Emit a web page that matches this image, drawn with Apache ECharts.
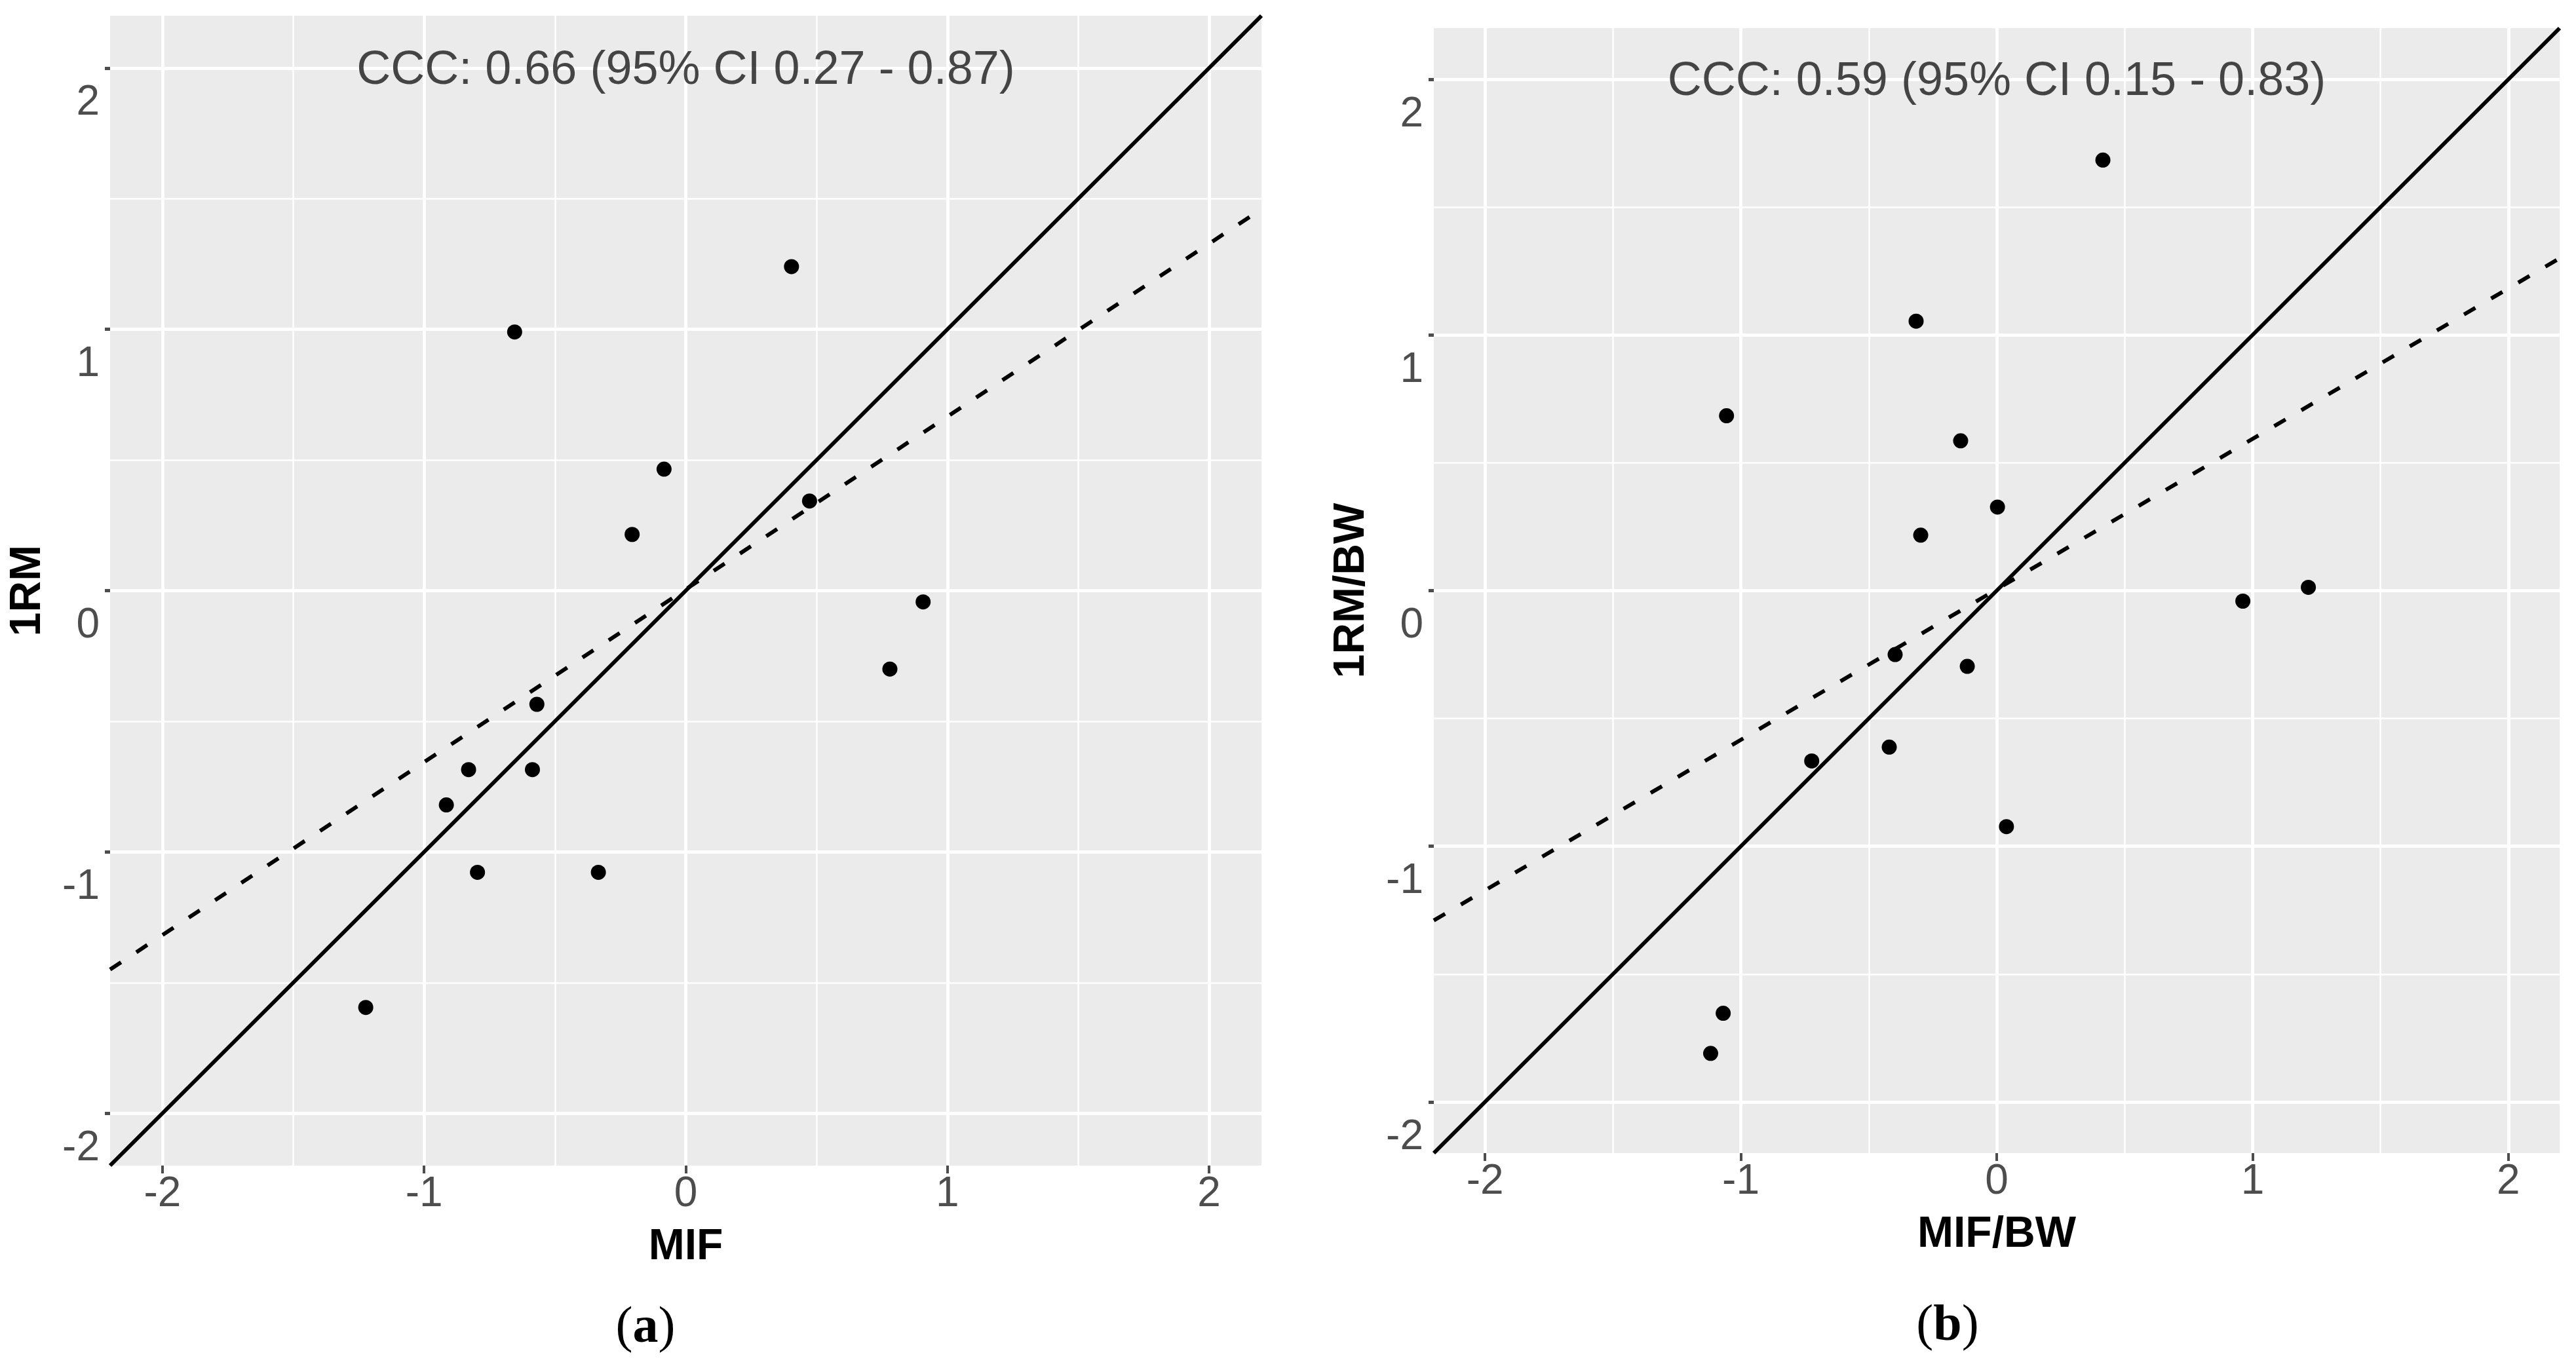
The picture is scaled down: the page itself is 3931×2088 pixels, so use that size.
<!DOCTYPE html>
<html>
<head>
<meta charset="utf-8">
<script src="https://cdn.jsdelivr.net/npm/echarts@6/dist/echarts.min.js"></script>
<style>
  html, body { margin: 0; padding: 0; background: #fff; }
  #chart-container { width: 3931px; height: 2088px; }
</style>
</head>
<body>
<div id="chart-container"></div>
<script>
// panel (a): MIF vs 1RM (z-scores)
const mifA = [-0.654, 0.404, -0.083, 0.473, -0.205, 0.907, 0.78, -0.569, -0.83, -0.586, -0.915, -0.796, -0.334, -1.223];
const rmA = [0.99, 1.24, 0.465, 0.343, 0.215, -0.043, -0.30, -0.435, -0.685, -0.685, -0.82, -1.078, -1.078, -1.595];

// panel (b): MIF/BW vs 1RM/BW
const mifB = [0.415, -0.315, -1.056, -0.141, 0.003, -0.297, 0.962, 1.218, -0.397, -0.115, -0.723, -0.42, 0.038, -1.069, -1.118];
const rmB = [1.684, 1.054, 0.684, 0.586, 0.327, 0.217, -0.041, 0.013, -0.25, -0.296, -0.666, -0.612, -0.923, -1.653, -1.81];

// line of identity and fitted (dashed) line, end points
const identityLine = [[-2.2, -2.2], [2.2, 2.2]];
const fitA = [[-2.2, -1.45], [2.2, 1.46]];
const fitB = [[-2.2, -1.29], [2.2, 1.30]];

const majorTicks = [-2, -1, 0, 1, 2];
const minorTicks = [-1.5, -0.5, 0.5, 1.5];
const cccTexts = ["CCC: 0.66 (95% CI 0.27 - 0.87)", "CCC: 0.59 (95% CI 0.15 - 0.83)"];
const xNames = ["MIF", "MIF/BW"];
const yNames = ["1RM", "1RM/BW"];
const panelTags = ["a", "b"];

const SANS = "'Liberation Sans', Arial, sans-serif";
const SERIF = "'Liberation Serif', 'Times New Roman', serif";

function zip(xs, ys) {
  return xs.map((x, i) => [x, ys[i]]);
}

function mainAxis(dim, gridIndex, name) {
  const isY = dim === "y";
  return {
    type: "value",
    gridIndex: gridIndex,
    min: -2.2,
    max: 2.2,
    name: name,
    nameLocation: "middle",
    nameGap: 92,
    nameTextStyle: {
      fontFamily: SANS,
      fontWeight: "bold",
      fontSize: 66,
      color: "#000",
    },
    axisLine: { show: false, onZero: false },
    axisTick: {
      show: true,
      customValues: majorTicks,
      length: isY ? 8 : 12,
      lineStyle: { color: "#4d4d4d", width: isY ? 5 : 4 },
    },
    axisLabel: {
      customValues: majorTicks,
      fontFamily: SANS,
      fontSize: 64,
      color: "#4d4d4d",
      margin: isY ? 16 : 12,
      // the y labels in the source sit a bit below their ticks
      verticalAlign: "top",
      lineHeight: isY ? 108 : 64,
    },
    splitLine: { show: true, lineStyle: { color: "#ffffff", width: 5 } },
  };
}

function minorAxis(gridIndex) {
  return {
    type: "value",
    gridIndex: gridIndex,
    min: -2.2,
    max: 2.2,
    axisLine: { show: false, onZero: false },
    axisTick: { show: false, customValues: minorTicks },
    axisLabel: { show: false },
    splitLine: { show: true, lineStyle: { color: "#ffffff", width: 2.5 } },
  };
}

function panelSeries(axisIndex, pts, fit, text) {
  return [
    {
      type: "line",
      xAxisIndex: axisIndex,
      yAxisIndex: axisIndex,
      data: identityLine,
      symbol: "none",
      lineStyle: { color: "#000", width: 6 },
      silent: true,
      z: 3,
    },
    {
      type: "line",
      xAxisIndex: axisIndex,
      yAxisIndex: axisIndex,
      data: fit,
      symbol: "none",
      lineStyle: { color: "#000", width: 6, type: [20, 28] },
      silent: true,
      z: 3,
    },
    {
      type: "scatter",
      xAxisIndex: axisIndex,
      yAxisIndex: axisIndex,
      data: pts,
      symbol: "circle",
      symbolSize: 23,
      itemStyle: { color: "#000", opacity: 1 },
      z: 4,
    },
    {
      type: "scatter",
      xAxisIndex: axisIndex,
      yAxisIndex: axisIndex,
      data: [[0, 1.99]],
      symbolSize: 0,
      silent: true,
      label: {
        show: true,
        position: "inside",
        formatter: text,
        fontFamily: SANS,
        fontSize: 72,
        color: "#1a1a1a",
      },
      z: 5,
    },
  ];
}

const chart = echarts.init(document.getElementById("chart-container"), null, { renderer: "canvas" });

const option = {
  backgroundColor: "#ffffff",
  animation: false,
  title: panelTags.map((t, i) => ({
    text: "(" + "{b|" + t + "})",
    left: i === 0 ? 980 : 2967,
    top: i === 0 ? 1984 : 1981,
    textAlign: "center",
    textStyle: {
      fontFamily: SERIF,
      fontSize: 78,
      fontWeight: "normal",
      color: "#000",
      rich: {
        b: { fontFamily: SERIF, fontSize: 78, fontWeight: "bold", color: "#000" },
      },
    },
  })),
  grid: [
    { left: 168, top: 24, width: 1757, height: 1755, show: true, backgroundColor: "#ebebeb", borderWidth: 0 },
    { left: 2188, top: 43, width: 1718, height: 1717, show: true, backgroundColor: "#ebebeb", borderWidth: 0 },
  ],
  xAxis: [
    mainAxis("x", 0, xNames[0]),
    minorAxis(0),
    mainAxis("x", 1, xNames[1]),
    minorAxis(1),
  ],
  yAxis: [
    mainAxis("y", 0, yNames[0]),
    minorAxis(0),
    mainAxis("y", 1, yNames[1]),
    minorAxis(1),
  ],
  series: [
    ...panelSeries(0, zip(mifA, rmA), fitA, cccTexts[0]),
    ...panelSeries(2, zip(mifB, rmB), fitB, cccTexts[1]),
  ],
};

chart.setOption(option);
</script>
</body>
</html>
